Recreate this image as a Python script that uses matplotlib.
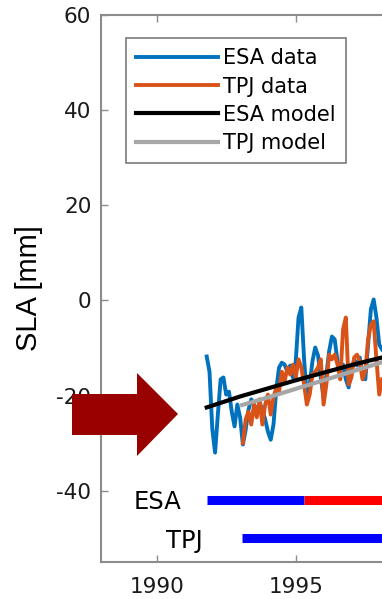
import matplotlib
matplotlib.use("Agg")
import matplotlib.pyplot as plt
from matplotlib.patches import Polygon

plt.rcParams['font.family'] = ['DejaVu Sans']
plt.rcParams['axes.unicode_minus'] = False

# ESA altimetry series (mm), every 0.1 yr from 1991.8
esa_years = [1991.8 + 0.1 * i for i in range(64)]
esa_sla = [-11.8, -15.0, -27.0, -32.0, -24.0, -16.6, -16.2, -19.8, -19.2, -23.4,
           -26.5, -21.9, -24.6, -30.3, -27.2, -23.0, -20.8, -21.9, -23.4, -21.5,
           -23.0, -25.0, -27.6, -29.3, -26.1, -18.7, -14.1, -13.1, -13.5, -15.0,
           -13.7, -16.2, -12.8, -3.6, -1.5, -12.4, -20.4, -17.7, -12.8, -9.9,
           -11.6, -16.2, -20.4, -15.6, -10.7, -7.6, -8.2, -12.8, -14.5, -13.5,
           -16.6, -18.3, -15.0, -12.4, -13.7, -12.0, -15.6, -16.6, -9.3, -1.9,
           0.2, -3.6, -9.3, -10.3]

# TOPEX/Poseidon-Jason series (mm), every 0.1 yr from 1993.1
tpj_years = [1993.1 + 0.1 * i for i in range(51)]
tpj_sla = [-30.0, -25.0, -23.4, -26.1, -21.9, -24.6, -20.8, -26.1, -21.9, -19.8,
           -24.0, -20.4, -18.3, -19.2, -15.0, -17.0, -14.1, -15.6, -13.5, -16.2,
           -12.4, -14.1, -17.7, -21.9, -19.8, -15.6, -15.0, -14.1, -12.4, -21.9,
           -17.7, -11.4, -12.4, -11.4, -13.5, -16.6, -6.1, -3.6, -17.7, -16.2,
           -12.0, -11.4, -12.8, -16.6, -15.0, -8.2, -5.1, -4.4, -12.4, -19.8,
           -16.6]

# fitted models
esa_model_years = [1991.8, 1993.0, 1994.0, 1995.0, 1996.0, 1997.0, 1998.1]
esa_model = [-22.5, -20.2, -18.5, -16.8, -15.2, -13.6, -12.0]
tpj_model_years = [1993.07, 1994.0, 1995.0, 1996.0, 1997.0, 1998.1]
tpj_model = [-22.0, -20.4, -18.6, -16.8, -15.0, -13.0]

# mission coverage bars
esa_bar_blue = [1991.8, 1995.3]
esa_bar_red = [1995.3, 1999.0]
tpj_bar_blue = [1993.07, 1999.0]
esa_bar_level = -42
tpj_bar_level = -50

fig = plt.figure(figsize=(3.82, 5.99), dpi=100)
ax = fig.add_axes([101 / 382, 1 - 562 / 599, 281 / 382, 547 / 599])

ax.plot(esa_years, esa_sla, color='#0072BD', lw=2.8, label='ESA data')
ax.plot(tpj_years, tpj_sla, color='#D95319', lw=2.8, label='TPJ data')
ax.plot(esa_model_years, esa_model, color='black', lw=3, label='ESA model')
ax.plot(tpj_model_years, tpj_model, color='#A6A6A6', lw=3, label='TPJ model')

ax.plot(esa_bar_blue, [esa_bar_level] * 2, color='#0000FF', lw=6.5, solid_capstyle='butt')
ax.plot(esa_bar_red, [esa_bar_level] * 2, color='#FF0000', lw=6.5, solid_capstyle='butt')
ax.plot(tpj_bar_blue, [tpj_bar_level] * 2, color='#0000FF', lw=6.5, solid_capstyle='butt')
ax.text(1990.9, -42.3, 'ESA', ha='right', va='center', fontsize=17.5)
ax.text(1991.67, -50.5, 'TPJ', ha='right', va='center', fontsize=17.5)

ax.set_xlim(1988, 1998.1)
ax.set_ylim(-55, 60)
ax.set_xticks([1990, 1995])
ax.set_yticks([-40, -20, 0, 20, 40, 60])
ax.set_ylabel('SLA [mm]', fontsize=21, family='Liberation Sans')
ax.yaxis.set_label_coords(-0.205, 0.5)

for side in ['left', 'bottom', 'top']:
    ax.spines[side].set_color('#8c8c8c')
    ax.spines[side].set_linewidth(1.5)
ax.spines['right'].set_visible(False)
ax.tick_params(direction='in', length=5, width=1, color='#8c8c8c',
               labelsize=15.5, labelcolor='#1a1a1a', top=True)
ax.tick_params(axis='y', pad=7)
ax.tick_params(axis='x', pad=11)

leg = ax.legend(loc='upper left', bbox_to_anchor=(126 / 382, 1 - 38 / 599),
                bbox_transform=fig.transFigure, borderaxespad=0, fontsize=15,
                handlelength=3.9, handletextpad=0.24, borderpad=0.5,
                labelspacing=0.39, fancybox=False, framealpha=1)
leg.get_frame().set_edgecolor('#7a7a7a')
leg.get_frame().set_linewidth(1.2)

# big arrow pointing at the start of the record (figure pixels)
arrow_px = [(72, 394), (137, 394), (137, 373), (178, 414), (137, 456), (137, 435), (72, 435)]
arrow = Polygon([(x / 382, 1 - y / 599) for x, y in arrow_px], closed=True,
                transform=fig.transFigure, facecolor='#990000', edgecolor='none', zorder=10)
fig.patches.append(arrow)

fig.savefig('out.png', dpi=100)
